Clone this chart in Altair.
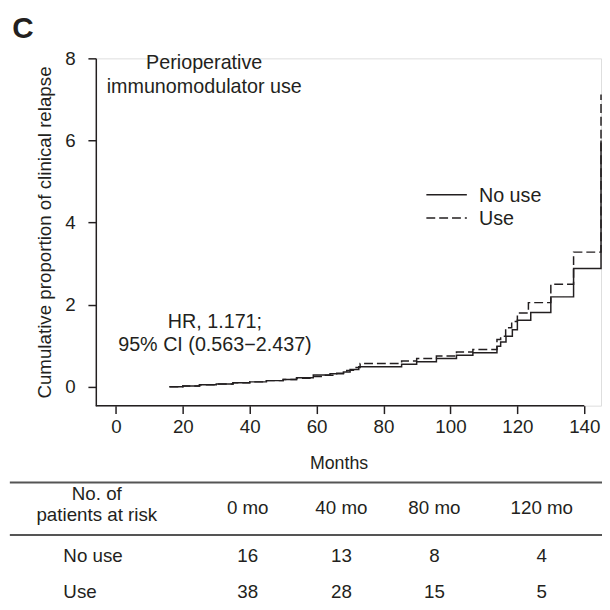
import altair as alt
import pandas as pd

# ---------------- data ----------------
groups = ["No use", "Use"]

no_use_months = [16, 20, 25, 30, 35, 40, 45, 50, 54, 59, 64, 68, 70, 72.6, 85.4, 89.9,
                 95.8, 101.8, 106.7, 113.9, 115, 116.6, 118.5, 120, 124, 130, 136.8, 145]
no_use_values = [0.00, 0.02, 0.05, 0.07, 0.10, 0.12, 0.15, 0.18, 0.22, 0.29, 0.32, 0.36, 0.42, 0.49, 0.55, 0.61,
                 0.69, 0.77, 0.83, 0.99, 1.09, 1.23, 1.39, 1.62, 1.81, 2.19, 2.88, 6.0]

use_months = [16, 20, 25, 30, 35, 40, 45, 50, 54, 58, 62, 66, 69, 71, 73, 85.4, 89.9,
              95.8, 101.8, 106.7, 113.9, 115, 116.5, 118.3, 120, 123.3, 130, 136.8, 145]
use_values = [0.00, 0.02, 0.05, 0.07, 0.10, 0.12, 0.15, 0.18, 0.21, 0.25, 0.28, 0.33, 0.40, 0.47, 0.57, 0.63, 0.69,
              0.75, 0.85, 0.91, 1.15, 1.23, 1.44, 1.59, 1.80, 2.05, 2.50, 3.28, 7.12]

x_ticks = [0, 20, 40, 60, 80, 100, 120, 140]
y_ticks = [0, 2, 4, 6, 8]

table_columns = ["0 mo", "40 mo", "80 mo", "120 mo"]
at_risk_no_use = [16, 13, 8, 4]
at_risk_use = [38, 28, 15, 5]
table_header = "No. of\npatients at risk"

panel_label = "C"
group_title = "Perioperative\nimmunomodulator use"
hr_text = "HR, 1.171;\n95% CI (0.563\u22122.437)"

# ---------------- layout / style ----------------
INK = "#231f20"
FONT = "Liberation Sans"
W, H = 512, 352
X_DOMAIN = [-6, 145]
Y_DOMAIN = [-0.46, 8]
X_AXIS_END = 140

xs = alt.Scale(domain=X_DOMAIN, nice=False, zero=False)
ys = alt.Scale(domain=Y_DOMAIN, nice=False, zero=False)
dash_scale = alt.Scale(domain=groups, range=[[1, 0], [9, 4]])

curves = pd.concat([
    pd.DataFrame({"month": no_use_months, "value": no_use_values, "group": groups[0]}),
    pd.DataFrame({"month": use_months, "value": use_values, "group": groups[1]}),
])

lines = alt.Chart(curves).mark_line(
    interpolate="step-after", color=INK, strokeWidth=1.5, clip=False
).encode(
    x=alt.X("month:Q", scale=xs, axis=alt.Axis(
        values=x_ticks, domain=False, tickSize=8, tickWidth=1.5, tickColor=INK,
        labelFontSize=19, labelPadding=4, labelColor=INK, labelFont=FONT,
        title="Months", titleFontSize=18, titleFont=FONT, titleFontWeight="normal",
        titleColor=INK, titleX=246, titleY=59, titleAlign="center", titleBaseline="middle",
        grid=False)),
    y=alt.Y("value:Q", scale=ys, axis=alt.Axis(
        values=y_ticks, domain=True, domainWidth=1.5, domainColor=INK,
        tickSize=8, tickWidth=1.5, tickColor=INK,
        labelFontSize=19, labelPadding=13, labelColor=INK, labelFont=FONT,
        title="Cumulative proportion of clinical relapse", titleFontSize=19,
        titleFont=FONT, titleFontWeight="normal", titleColor=INK, titlePadding=10,
        grid=False)),
    strokeDash=alt.StrokeDash("group:N", scale=dash_scale, legend=None),
)

# x axis line ends at the 140 tick
x_axis_line = alt.Chart(pd.DataFrame({"a": [X_DOMAIN[0]], "b": [X_AXIS_END], "y": [Y_DOMAIN[0]]})).mark_rule(
    color=INK, strokeWidth=1.5
).encode(x=alt.X("a:Q", scale=xs), x2="b:Q", y=alt.Y("y:Q", scale=ys))

# annotations (positions in data units)
notes = pd.DataFrame({
    "text": [group_title, hr_text],
    "x": [26.4, 29.6],
    "y": [7.73, 1.44],
})
note_marks = alt.Chart(notes).mark_text(
    align="center", baseline="alphabetic", fontSize=20, font=FONT, color=INK,
    lineBreak="\n", lineHeight=24
).encode(x=alt.X("x:Q", scale=xs), y=alt.Y("y:Q", scale=ys), text="text:N")

label_c = alt.Chart(pd.DataFrame({"text": [panel_label], "x": [-27.8], "y": [8.49]})).mark_text(
    align="center", baseline="alphabetic", fontSize=30, fontWeight="bold",
    font="Liberation Sans Narrow, Liberation Sans", color=INK
).encode(x=alt.X("x:Q", scale=xs), y=alt.Y("y:Q", scale=ys), text="text:N")

# manual legend
legend_df = pd.DataFrame({"group": groups, "x": [92.8, 92.8], "x2": [104.9, 104.9],
                          "tx": [108.5, 108.5], "y": [4.68, 4.11]})
legend_lines = alt.Chart(legend_df).mark_rule(color=INK, strokeWidth=1.5).encode(
    x=alt.X("x:Q", scale=xs), x2="x2:Q", y=alt.Y("y:Q", scale=ys),
    strokeDash=alt.StrokeDash("group:N", scale=dash_scale, legend=None))
legend_text = alt.Chart(legend_df).mark_text(
    align="left", baseline="middle", fontSize=20, font=FONT, color=INK, dy=1
).encode(x=alt.X("tx:Q", scale=xs), y=alt.Y("y:Q", scale=ys), text="group:N")

# ---------------- at-risk table below the plot ----------------
TABLE_LEFT, TABLE_RIGHT = -31.7, 145.3
RULE_Y = [-2.33, -3.61]
HEADER_Y = -2.96
HEADER_BASE_Y = -2.766
ROW_Y = [-4.13, -5.0]
COL_X = [39.4, 67.4, 95.2, 127.3]
HEADER_X = -5.7
ROW_LABEL_X = -15.7

table_rules = alt.Chart(pd.DataFrame({"a": [TABLE_LEFT] * 2, "b": [TABLE_RIGHT] * 2, "y": RULE_Y})).mark_rule(
    color="#555555", strokeWidth=2
).encode(x=alt.X("a:Q", scale=xs), x2="b:Q", y=alt.Y("y:Q", scale=ys))

cells = []
for c, xv in zip(table_columns, COL_X):
    cells.append({"text": c, "x": xv, "y": HEADER_Y})
for vals, yv in zip([at_risk_no_use, at_risk_use], ROW_Y):
    for v, xv in zip(vals, COL_X):
        cells.append({"text": str(v), "x": xv, "y": yv})
table_cells = alt.Chart(pd.DataFrame(cells)).mark_text(
    align="center", baseline="middle", fontSize=19, font=FONT, color=INK
).encode(x=alt.X("x:Q", scale=xs), y=alt.Y("y:Q", scale=ys), text="text:N")

header_cell = alt.Chart(pd.DataFrame({"text": [table_header], "x": [HEADER_X], "y": [HEADER_BASE_Y]})).mark_text(
    align="center", baseline="alphabetic", fontSize=19, font=FONT, color=INK,
    lineBreak="\n", lineHeight=21
).encode(x=alt.X("x:Q", scale=xs), y=alt.Y("y:Q", scale=ys), text="text:N")

row_labels = alt.Chart(pd.DataFrame({"text": groups, "x": [ROW_LABEL_X] * 2, "y": ROW_Y})).mark_text(
    align="left", baseline="middle", fontSize=19, font=FONT, color=INK
).encode(x=alt.X("x:Q", scale=xs), y=alt.Y("y:Q", scale=ys), text="text:N")

chart = alt.layer(
    lines, x_axis_line, note_marks, label_c, legend_lines, legend_text,
    table_rules, table_cells, header_cell, row_labels
).properties(
    width=W, height=H,
    autosize=alt.AutoSizeParams(type="none"),
    padding={"left": 89, "top": 47, "right": 1, "bottom": 200},
).configure_view(stroke=None).configure(background="white")

chart.save("out.html", embed_options={"renderer": "svg", "actions": False})
